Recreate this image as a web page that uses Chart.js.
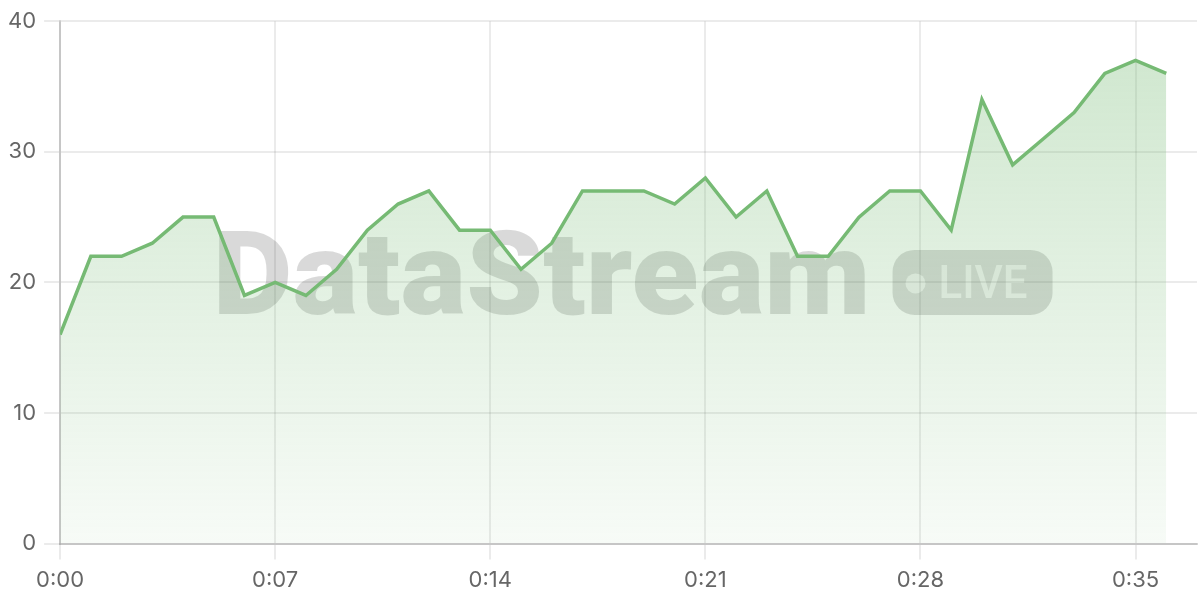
<!DOCTYPE html>
<html>
<head>
<meta charset="utf-8">
<script src="https://cdn.jsdelivr.net/npm/chart.js@4/dist/chart.umd.min.js"></script>
<style>
  html, body { margin: 0; padding: 0; background: #fff; }
  #wrap { width: 1200px; height: 600px; position: relative; }
</style>
</head>
<body>
<div id="wrap"><canvas id="stream"></canvas></div>
<script>
const seconds = [0, 1, 2, 3, 4, 5, 6, 7, 8, 9, 10, 11, 12, 13, 14, 15, 16, 17, 18,
  19, 20, 21, 22, 23, 24, 25, 26, 27, 28, 29, 30, 31, 32, 33, 34, 35, 36];
const values = [16, 22, 22, 23, 25, 25, 19, 20, 19, 21, 24, 26, 27, 24, 24, 21, 23, 27, 27,
  27, 26, 28, 25, 27, 22, 22, 25, 27, 27, 24, 34, 29, 31, 33, 36, 37, 36];
const yTicks = [0, 10, 20, 30, 40];

const lineColor = 'rgb(118, 186, 116)';
const fontFamily = "Inter, 'Helvetica Neue', Helvetica, 'Liberation Sans', Arial, sans-serif";

// Format m:ss pour l'axe du temps
const fmtTime = (v) => `${Math.floor(v / 60)}:${String(v % 60).padStart(2, '0')}`;

// Filigrane "DataStream • LIVE" dessiné sous la grille
const watermark = {
  id: 'watermark',
  beforeDraw(chart) {
    const { ctx, chartArea: a } = chart;
    const cx = (a.left + a.right) / 2 + 4;
    const cy = (a.top + a.bottom) / 2;
    const textW = 658, gap = 22, pillW = 160, pillH = 65;
    const total = textW + gap + pillW;
    const x0 = cx - total / 2;
    ctx.save();
    ctx.fillStyle = 'rgba(0, 0, 0, 0.15)';
    ctx.font = "900 116px Roboto, 'Liberation Sans', sans-serif";
    ctx.textBaseline = 'alphabetic';
    const w = ctx.measureText('DataStream').width;
    ctx.save();
    ctx.translate(x0, cy + 32);
    ctx.scale(textW / w, 1);
    ctx.fillText('DataStream', 0, 0);
    ctx.restore();

    // pastille LIVE
    const px = x0 + textW + gap, py = cy - pillH / 2;
    ctx.beginPath();
    ctx.roundRect(px, py, pillW, pillH, 22);
    ctx.fill();
    ctx.fillStyle = 'rgba(255, 255, 255, 0.65)';
    ctx.beginPath();
    ctx.arc(px + 23, cy + 1, 10, 0, Math.PI * 2);
    ctx.fill();
    ctx.font = "500 47px Roboto, 'Liberation Sans', sans-serif";
    const lw = ctx.measureText('LIVE').width;
    ctx.save();
    ctx.translate(px + 46, cy + 16);
    ctx.scale(89 / lw, 1);
    ctx.fillText('LIVE', 0, 0);
    ctx.restore();
    ctx.restore();
  }
};

const points = seconds.map((s, i) => ({ x: s, y: values[i] }));

new Chart(document.getElementById('stream'), {
  type: 'line',
  data: {
    datasets: [{
      data: points,
      borderColor: lineColor,
      borderWidth: 3.5,
      pointRadius: 0,
      tension: 0,
      fill: 'origin',
      backgroundColor: (context) => {
        const { chart } = context;
        const a = chart.chartArea;
        if (!a) return 'rgba(118, 186, 116, 0.2)';
        const g = chart.ctx.createLinearGradient(0, a.top, 0, a.bottom);
        g.addColorStop(0, 'rgba(118, 186, 116, 0.36)');
        g.addColorStop(1, 'rgba(118, 186, 116, 0.06)');
        return g;
      }
    }]
  },
  options: {
    responsive: true,
    maintainAspectRatio: false,
    animation: false,
    layout: { padding: { left: 0, right: 3, top: 10, bottom: -2 } },
    plugins: {
      legend: { display: false },
      tooltip: { enabled: false }
    },
    scales: {
      x: {
        type: 'linear',
        min: 0,
        max: 37,
        grid: { color: 'rgba(0, 0, 0, 0.08)', lineWidth: 2, tickLength: 16 },
        border: { color: 'rgba(0, 0, 0, 0.16)', width: 2 },
        ticks: {
          stepSize: 7,
          includeBounds: false,
          autoSkip: false,
          maxRotation: 0,
          padding: 8,
          color: '#666',
          font: { family: fontFamily, size: 22 },
          callback: (v) => fmtTime(v)
        }
      },
      y: {
        min: yTicks[0],
        max: yTicks[yTicks.length - 1],
        grid: { color: 'rgba(0, 0, 0, 0.08)', lineWidth: 2, tickLength: 16 },
        border: { color: 'rgba(0, 0, 0, 0.16)', width: 2 },
        afterBuildTicks: (scale) => { scale.ticks = yTicks.map(v => ({ value: v })); },
        ticks: {
          padding: 8,
          color: '#666',
          font: { family: fontFamily, size: 22 }
        }
      }
    }
  },
  plugins: [watermark]
});
</script>
</body>
</html>
